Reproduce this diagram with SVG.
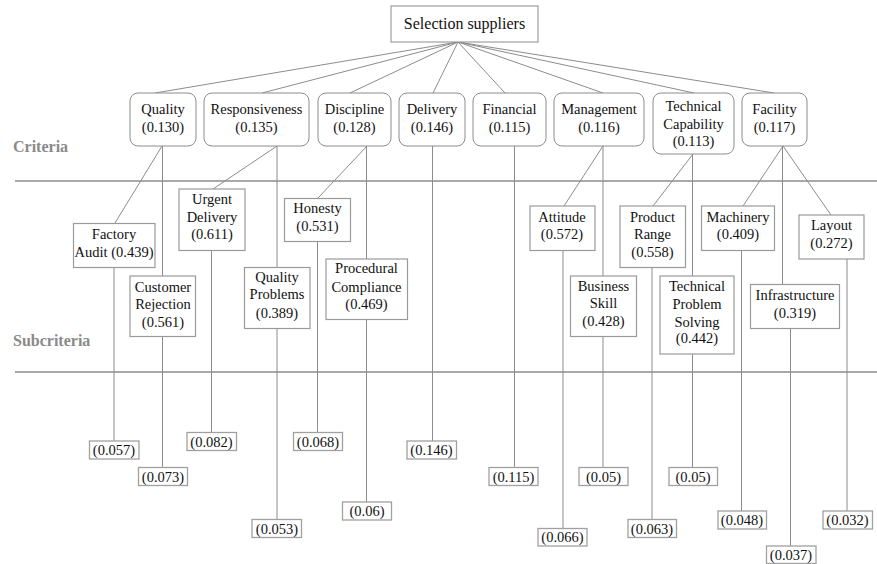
<svg xmlns="http://www.w3.org/2000/svg" width="877" height="564" viewBox="0 0 877 564">
<style>
text{font-family:'Liberation Serif','Times New Roman',Times,serif;font-size:14.5px;fill:#111;text-anchor:middle}
.top{font-size:16px}
.lvl{font-size:16px;font-weight:bold;fill:#8a8a8a;text-anchor:start}
.crit{fill:#fff;stroke:#8c8c8c;stroke-width:1}
.sub{fill:#fff;stroke:#9a9a9a;stroke-width:1.2}
.val{fill:#fff;stroke:#a0a0a0;stroke-width:1.3}
.c line{stroke:#8c8c8c;stroke-width:1;fill:none}
.sep{stroke:#8c8c8c;stroke-width:1.5}
</style>
<rect width="877" height="564" fill="#fff"/>
<line class="sep" x1="15" y1="181" x2="877" y2="181"/>
<line class="sep" x1="15" y1="372" x2="877" y2="372"/>
<g font-family="Liberation Serif, Times New Roman, serif">
<text class="lvl" x="13" y="152">Criteria</text>
<text class="lvl" x="13" y="346">Subcriteria</text>
</g>
<g class="c" id="connectors">
<line x1="458" y1="42" x2="155" y2="93"/>
<line x1="458" y1="42" x2="262" y2="93"/>
<line x1="458" y1="42" x2="350" y2="93"/>
<line x1="458" y1="42" x2="433" y2="93"/>
<line x1="458" y1="42" x2="505" y2="93"/>
<line x1="458" y1="42" x2="603" y2="93"/>
<line x1="458" y1="42" x2="694" y2="93"/>
<line x1="458" y1="42" x2="774" y2="93"/>
<line x1="162" y1="146" x2="115" y2="223"/>
<line x1="162.5" y1="146" x2="162.5" y2="276"/>
<line x1="277" y1="146" x2="213" y2="189"/>
<line x1="277" y1="146" x2="277" y2="267"/>
<line x1="367" y1="146" x2="318" y2="198"/>
<line x1="366.5" y1="146" x2="366.5" y2="259"/>
<line x1="432.5" y1="146" x2="432.5" y2="441"/>
<line x1="514.5" y1="146" x2="514.5" y2="467"/>
<line x1="603" y1="146" x2="564" y2="206"/>
<line x1="603" y1="146" x2="603" y2="276"/>
<line x1="693" y1="154" x2="653" y2="206"/>
<line x1="692.5" y1="154" x2="692.5" y2="276"/>
<line x1="783" y1="146" x2="743" y2="206"/>
<line x1="783" y1="146" x2="831" y2="215"/>
<line x1="782.5" y1="146" x2="782.5" y2="284"/>
<line x1="114" y1="267" x2="114" y2="441"/>
<line x1="162.5" y1="337" x2="162.5" y2="467"/>
<line x1="211.5" y1="251" x2="211.5" y2="432"/>
<line x1="277" y1="328" x2="277" y2="519"/>
<line x1="317.5" y1="242" x2="317.5" y2="432"/>
<line x1="366.5" y1="319" x2="366.5" y2="502"/>
<line x1="563" y1="251" x2="563" y2="528"/>
<line x1="603" y1="337" x2="603" y2="467"/>
<line x1="652" y1="267" x2="652" y2="519"/>
<line x1="692.5" y1="354" x2="692.5" y2="467"/>
<line x1="741.5" y1="251" x2="741.5" y2="511"/>
<line x1="790.5" y1="328" x2="790.5" y2="546"/>
<line x1="847" y1="259" x2="847" y2="511"/>
</g>
<g id="root"><rect class="crit" x="391" y="6" width="147" height="36"/><text class="top" x="464.5" y="29">Selection suppliers</text></g>
<g id="quality"><rect class="crit" x="130" y="93" width="66" height="53" rx="8"/><text x="163" y="114">Quality</text><text x="163" y="132">(0.130)</text></g>
<g id="responsiveness"><rect class="crit" x="204" y="93" width="105" height="53" rx="8"/><text x="256.5" y="114">Responsiveness</text><text x="256.5" y="132">(0.135)</text></g>
<g id="discipline"><rect class="crit" x="318" y="93" width="73" height="53" rx="8"/><text x="354.5" y="114">Discipline</text><text x="354.5" y="132">(0.128)</text></g>
<g id="delivery"><rect class="crit" x="399" y="93" width="66" height="53" rx="8"/><text x="432" y="114">Delivery</text><text x="432" y="132">(0.146)</text></g>
<g id="financial"><rect class="crit" x="473" y="93" width="73" height="53" rx="8"/><text x="509.5" y="114">Financial</text><text x="509.5" y="132">(0.115)</text></g>
<g id="management"><rect class="crit" x="554" y="93" width="90" height="53" rx="8"/><text x="599" y="114">Management</text><text x="599" y="132">(0.116)</text></g>
<g id="technical"><rect class="crit" x="653" y="93" width="81" height="61" rx="8"/><text x="693.5" y="111">Technical</text><text x="693.5" y="129">Capability</text><text x="693.5" y="146">(0.113)</text></g>
<g id="facility"><rect class="crit" x="742" y="93" width="65" height="53" rx="8"/><text x="774.5" y="114">Facility</text><text x="774.5" y="132">(0.117)</text></g>
<g id="factory-audit"><rect class="sub" x="73.5" y="223.5" width="81.5" height="44"/><text x="114" y="239">Factory</text><text x="114" y="257">Audit (0.439)</text></g>
<g id="customer-rejection"><rect class="sub" x="130" y="276" width="65.5" height="60.5"/><text x="163" y="291.5">Customer</text><text x="163" y="309">Rejection</text><text x="163" y="326.5">(0.561)</text></g>
<g id="urgent-delivery"><rect class="sub" x="179" y="189" width="66" height="61.5"/><text x="212" y="204">Urgent</text><text x="212" y="221.5">Delivery</text><text x="212" y="239">(0.611)</text></g>
<g id="quality-problems"><rect class="sub" x="244.5" y="267.5" width="65.5" height="61"/><text x="277" y="282">Quality</text><text x="277" y="299">Problems</text><text x="277" y="317.5">(0.389)</text></g>
<g id="honesty"><rect class="sub" x="284.5" y="198.5" width="66" height="43"/><text x="317.5" y="212.5">Honesty</text><text x="317.5" y="231">(0.531)</text></g>
<g id="procedural-compliance"><rect class="sub" x="326" y="259" width="81.5" height="60.5"/><text x="366.5" y="273">Procedural</text><text x="366.5" y="291.5">Compliance</text><text x="366.5" y="309">(0.469)</text></g>
<g id="attitude"><rect class="sub" x="530" y="206" width="65" height="44.5"/><text x="562" y="221.5">Attitude</text><text x="562" y="239">(0.572)</text></g>
<g id="business-skill"><rect class="sub" x="570.5" y="276" width="66" height="60.5"/><text x="603.5" y="291">Business</text><text x="603.5" y="308">Skill</text><text x="603.5" y="326">(0.428)</text></g>
<g id="product-range"><rect class="sub" x="620" y="206" width="65.5" height="61.5"/><text x="652.5" y="221.5">Product</text><text x="652.5" y="239">Range</text><text x="652.5" y="256.5">(0.558)</text></g>
<g id="technical-problem-solving"><rect class="sub" x="660" y="276" width="74" height="78"/><text x="697" y="291">Technical</text><text x="697" y="309">Problem</text><text x="697" y="326.5">Solving</text><text x="697" y="343">(0.442)</text></g>
<g id="machinery"><rect class="sub" x="701.5" y="206" width="73" height="44.5"/><text x="738" y="221.5">Machinery</text><text x="738" y="239">(0.409)</text></g>
<g id="layout"><rect class="sub" x="799" y="215" width="65" height="44"/><text x="831.5" y="230">Layout</text><text x="831.5" y="247.5">(0.272)</text></g>
<g id="infrastructure"><rect class="sub" x="750.5" y="284.5" width="89" height="44"/><text x="795" y="300">Infrastructure</text><text x="795" y="317.5">(0.319)</text></g>
<g id="v-factory"><rect class="val" x="89.5" y="441" width="49.5" height="18"/><text x="114" y="455">(0.057)</text></g>
<g id="v-customer"><rect class="val" x="138.5" y="467.5" width="49" height="18"/><text x="163" y="481.5">(0.073)</text></g>
<g id="v-urgent"><rect class="val" x="187" y="432.5" width="49.5" height="18"/><text x="211.5" y="446.5">(0.082)</text></g>
<g id="v-qproblems"><rect class="val" x="252" y="519.5" width="49.5" height="18"/><text x="277" y="533.5">(0.053)</text></g>
<g id="v-honesty"><rect class="val" x="293.5" y="432.5" width="49" height="18"/><text x="318" y="446.5">(0.068)</text></g>
<g id="v-procedural"><rect class="val" x="342.5" y="502" width="49" height="18"/><text x="367" y="516">(0.06)</text></g>
<g id="v-delivery"><rect class="val" x="407" y="441" width="49.5" height="18"/><text x="431.5" y="455">(0.146)</text></g>
<g id="v-financial"><rect class="val" x="489" y="467.5" width="49" height="18"/><text x="513.5" y="481.5">(0.115)</text></g>
<g id="v-attitude"><rect class="val" x="538" y="528.5" width="49" height="17.5"/><text x="562.5" y="542">(0.066)</text></g>
<g id="v-business"><rect class="val" x="579" y="467.5" width="49" height="18"/><text x="603.5" y="481.5">(0.05)</text></g>
<g id="v-product"><rect class="val" x="628" y="519.5" width="48.5" height="18"/><text x="652" y="533.5">(0.063)</text></g>
<g id="v-tps"><rect class="val" x="669" y="467.5" width="48.5" height="18"/><text x="693" y="481.5">(0.05)</text></g>
<g id="v-machinery"><rect class="val" x="718" y="511" width="48.5" height="18"/><text x="742" y="525">(0.048)</text></g>
<g id="v-infrastructure"><rect class="val" x="766.5" y="546" width="49.5" height="17.5"/><text x="791" y="559.5">(0.037)</text></g>
<g id="v-layout"><rect class="val" x="823" y="511" width="49.5" height="18"/><text x="847.5" y="525">(0.032)</text></g>
</svg>
